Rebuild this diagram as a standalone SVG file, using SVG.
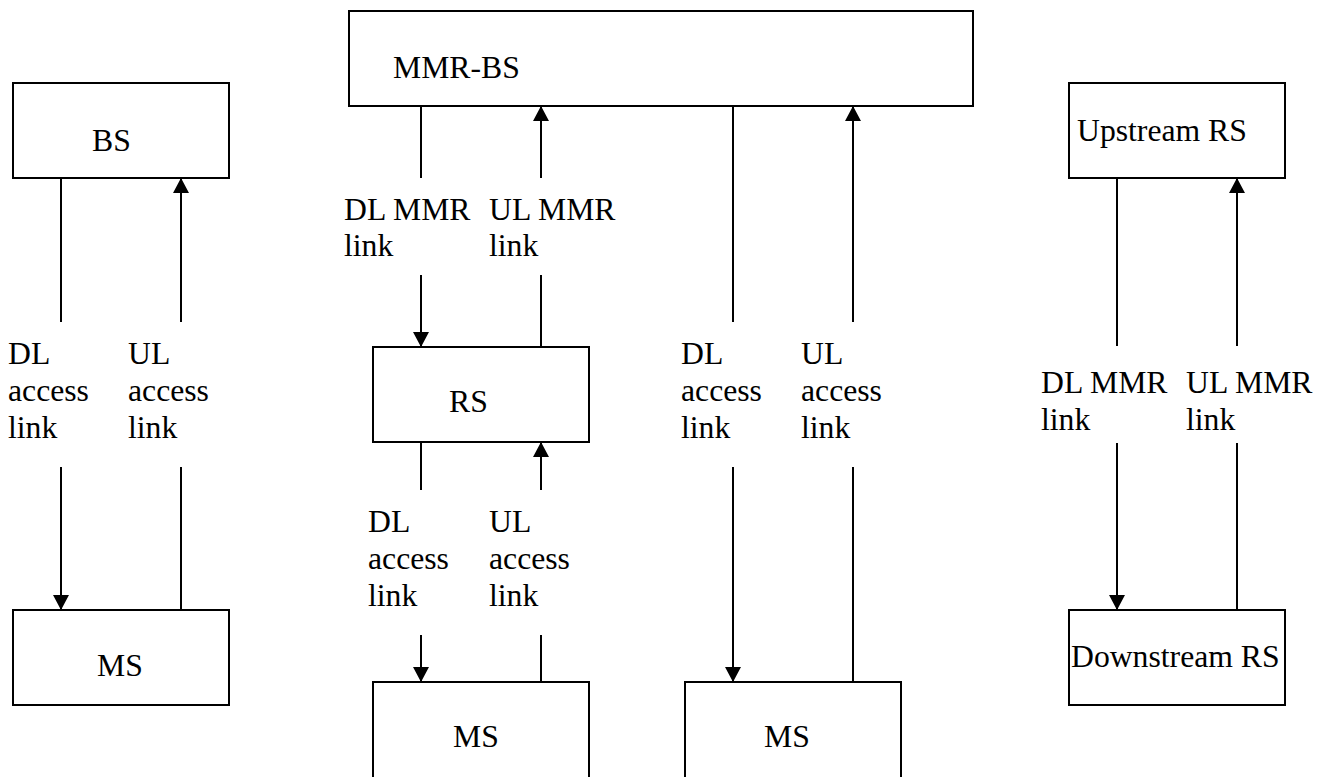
<svg xmlns="http://www.w3.org/2000/svg" width="1320" height="777" viewBox="0 0 1320 777">
<style>
.box{fill:#fff;stroke:#000;stroke-width:2}
.ln{stroke:#000;stroke-width:2;fill:none}
.t{font-family:"Liberation Serif","Times New Roman",serif;font-size:31.7px;fill:#000}
</style>
<defs>
<marker id="ah" markerUnits="userSpaceOnUse" markerWidth="16" markerHeight="16" refX="15" refY="8" orient="auto">
<path d="M0,0 L15,8 L0,16 z" fill="#000"/>
</marker>
</defs>
<rect width="1320" height="777" fill="#fff"/>

<g id="bs"><rect class="box" x="13" y="83" width="216" height="95"/><text class="t" x="92" y="151">BS</text></g>
<g id="ms-left"><rect class="box" x="13" y="610" width="216" height="95"/><text class="t" x="97" y="676">MS</text></g>
<g id="mmr-bs"><rect class="box" x="349" y="11" width="624" height="95"/><text class="t" x="393" y="78">MMR-BS</text></g>
<g id="rs"><rect class="box" x="373" y="347" width="216" height="95"/><text class="t" x="449" y="412">RS</text></g>
<g id="ms-center"><rect class="box" x="373" y="682" width="216" height="120"/><text class="t" x="453" y="747">MS</text></g>
<g id="ms-right"><rect class="box" x="685" y="682" width="216" height="120"/><text class="t" x="764" y="747">MS</text></g>
<g id="upstream-rs"><rect class="box" x="1069" y="83" width="216" height="95"/><text class="t" x="1077" y="141">Upstream RS</text></g>
<g id="downstream-rs"><rect class="box" x="1069" y="610" width="216" height="95"/><text class="t" x="1071" y="667">Downstream RS</text></g>

<g id="connectors">
<line class="ln" x1="61" y1="178" x2="61" y2="322"/>
<line class="ln" x1="61" y1="467" x2="61" y2="610" marker-end="url(#ah)"/>
<line class="ln" x1="181" y1="610" x2="181" y2="467"/>
<line class="ln" x1="181" y1="322" x2="181" y2="178" marker-end="url(#ah)"/>

<line class="ln" x1="421" y1="106" x2="421" y2="178"/>
<line class="ln" x1="421" y1="275" x2="421" y2="347" marker-end="url(#ah)"/>
<line class="ln" x1="541" y1="347" x2="541" y2="275"/>
<line class="ln" x1="541" y1="178" x2="541" y2="106" marker-end="url(#ah)"/>

<line class="ln" x1="421" y1="442" x2="421" y2="490"/>
<line class="ln" x1="421" y1="635" x2="421" y2="682" marker-end="url(#ah)"/>
<line class="ln" x1="541" y1="682" x2="541" y2="635"/>
<line class="ln" x1="541" y1="490" x2="541" y2="442" marker-end="url(#ah)"/>

<line class="ln" x1="733" y1="106" x2="733" y2="322"/>
<line class="ln" x1="733" y1="467" x2="733" y2="682" marker-end="url(#ah)"/>
<line class="ln" x1="853" y1="682" x2="853" y2="467"/>
<line class="ln" x1="853" y1="322" x2="853" y2="106" marker-end="url(#ah)"/>

<line class="ln" x1="1117" y1="178" x2="1117" y2="346"/>
<line class="ln" x1="1117" y1="443" x2="1117" y2="610" marker-end="url(#ah)"/>
<line class="ln" x1="1237" y1="610" x2="1237" y2="443"/>
<line class="ln" x1="1237" y1="346" x2="1237" y2="178" marker-end="url(#ah)"/>
</g>

<g id="labels">
<text class="t" x="8" y="364">DL</text><text class="t" x="8" y="401">access</text><text class="t" x="8" y="438">link</text>
<text class="t" x="128" y="364">UL</text><text class="t" x="128" y="401">access</text><text class="t" x="128" y="438">link</text>

<text class="t" x="344" y="220">DL MMR</text><text class="t" x="344" y="256">link</text>
<text class="t" x="489" y="220">UL MMR</text><text class="t" x="489" y="256">link</text>

<text class="t" x="368" y="532">DL</text><text class="t" x="368" y="569">access</text><text class="t" x="368" y="606">link</text>
<text class="t" x="489" y="532">UL</text><text class="t" x="489" y="569">access</text><text class="t" x="489" y="606">link</text>

<text class="t" x="681" y="364">DL</text><text class="t" x="681" y="401">access</text><text class="t" x="681" y="438">link</text>
<text class="t" x="801" y="364">UL</text><text class="t" x="801" y="401">access</text><text class="t" x="801" y="438">link</text>

<text class="t" x="1041" y="393">DL MMR</text><text class="t" x="1041" y="430">link</text>
<text class="t" x="1186" y="393">UL MMR</text><text class="t" x="1186" y="430">link</text>
</g>
</svg>
